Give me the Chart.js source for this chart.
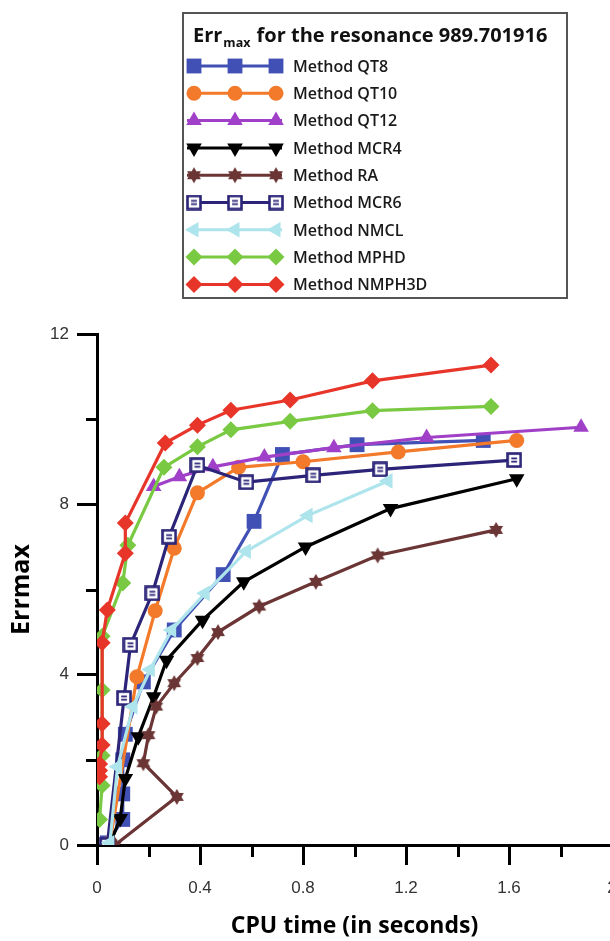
<!DOCTYPE html>
<html>
<head>
<meta charset="UTF-8">
<title>Err max for the resonance 989.701916</title>
<script src="https://cdn.jsdelivr.net/npm/chart.js@4.4.0/dist/chart.umd.min.js"></script>
<style>
    html, body { margin: 0; padding: 0; background: #fff; overflow: hidden; }
    #wrap { width: 610px; height: 941px; overflow: hidden; }
</style>
</head>
<body>
<div id="wrap"><canvas id="errChart" width="640" height="941"></canvas></div>
<script>
    // [cpu time, err max]
    var qt8 = [[0.04, 0.05], [0.1, 0.6], [0.1, 1.2], [0.1, 2.0], [0.11, 2.6], [0.18, 3.83], [0.3, 5.05],
        [0.49, 6.35], [0.61, 7.6], [0.72, 9.17], [1.01, 9.4], [1.5, 9.5]];
    var qt10 = [[0.05, 0.05], [0.155, 3.95], [0.226, 5.5], [0.3, 6.97], [0.39, 8.27], [0.55, 8.87],
        [0.8, 9.0], [1.17, 9.23], [1.63, 9.5]];
    var qt12 = [[0.22, 8.42], [0.32, 8.65], [0.45, 8.88], [0.65, 9.11], [0.92, 9.33], [1.28, 9.57], [1.88, 9.81]];
    var mcr4 = [[0.05, 0.02], [0.09, 0.62], [0.11, 1.56], [0.16, 2.54], [0.22, 3.48], [0.27, 4.34],
        [0.41, 5.28], [0.57, 6.18], [0.81, 7.0], [1.14, 7.9], [1.63, 8.6]];
    var ra = [[0.07, 0.0], [0.31, 1.13], [0.18, 1.92], [0.2, 2.58], [0.23, 3.25], [0.3, 3.8], [0.39, 4.39],
        [0.47, 5.0], [0.63, 5.6], [0.85, 6.18], [1.09, 6.8], [1.55, 7.4]];
    var mcr6 = [[0.04, 0.0], [0.105, 3.45], [0.13, 4.7], [0.215, 5.91], [0.28, 7.24], [0.39, 8.92],
        [0.58, 8.52], [0.84, 8.68], [1.1, 8.82], [1.62, 9.04]];
    var nmcl = [[0.05, 0.05], [0.08, 1.84], [0.14, 3.25], [0.207, 4.12], [0.29, 5.05], [0.42, 5.91],
        [0.58, 6.9], [0.82, 7.74], [1.13, 8.55]];
    var mphd = [[0.01, 0.6], [0.02, 1.4], [0.02, 2.1], [0.02, 3.64], [0.02, 4.9], [0.1, 6.15], [0.12, 7.04],
        [0.26, 8.87], [0.39, 9.35], [0.52, 9.75], [0.75, 9.95], [1.07, 10.2], [1.53, 10.3]];
    var nmph3d = [[0.01, 1.6], [0.01, 1.75], [0.01, 1.9], [0.02, 2.35], [0.02, 2.85], [0.02, 4.75], [0.04, 5.52],
        [0.11, 6.85], [0.11, 7.56], [0.265, 9.44], [0.39, 9.86], [0.52, 10.21], [0.75, 10.45], [1.07, 10.9],
        [1.53, 11.27]];

    var methodNames = ["Method QT8", "Method QT10", "Method QT12", "Method MCR4", "Method RA",
        "Method MCR6", "Method NMCL", "Method MPHD", "Method NMPH3D"];
    var methodData = [qt8, qt10, qt12, mcr4, ra, mcr6, nmcl, mphd, nmph3d];
    var methodColors = ["#4150b4", "#f27a2a", "#a040c8", "#000000", "#6b3535",
        "#2b2478", "#aee4ec", "#7ac943", "#e8352a"];

    var xTicks = {min: 0, max: 2, step: 0.2};
    var yTicks = {min: 0, max: 12, step: 2};

    // six pointed star for RA
    var starImage = function (color, r) {
        var c = document.createElement("canvas");
        var s = Math.ceil(r * 2 + 2);
        c.width = s;
        c.height = s;
        var g = c.getContext("2d");
        g.fillStyle = color;
        g.beginPath();
        for (var i = 0; i < 12; i++) {
            var a = Math.PI / 6 * i - Math.PI / 2;
            var rr = i % 2 === 0 ? r : r * 0.58;
            g.lineTo(s / 2 + rr * Math.cos(a), s / 2 + rr * Math.sin(a));
        }
        g.closePath();
        g.fill();
        return c;
    };

    // hollow square with a little "=" in it, for MCR6
    var boxImage = function (color, s) {
        var c = document.createElement("canvas");
        c.width = s;
        c.height = s;
        var g = c.getContext("2d");
        g.fillStyle = "#fff";
        g.fillRect(1, 1, s - 2, s - 2);
        g.strokeStyle = color;
        g.lineWidth = 2.6;
        g.strokeRect(1.5, 1.5, s - 3, s - 3);
        g.lineWidth = 1.6;
        g.beginPath();
        g.moveTo(s * 0.32, s * 0.4);
        g.lineTo(s * 0.68, s * 0.4);
        g.moveTo(s * 0.32, s * 0.6);
        g.lineTo(s * 0.68, s * 0.6);
        g.stroke();
        return c;
    };

    var markers = [
        {pointStyle: "rect", pointRadius: 10.5, pointRotation: 0},
        {pointStyle: "circle", pointRadius: 7.5, pointRotation: 0},
        {pointStyle: "triangle", pointRadius: 9, pointRotation: 0},
        {pointStyle: "triangle", pointRadius: 9, pointRotation: 180},
        {pointStyle: starImage(methodColors[4], 8), pointRadius: 8, pointRotation: 0},
        {pointStyle: boxImage(methodColors[5], 16), pointRadius: 8, pointRotation: 0},
        {pointStyle: "triangle", pointRadius: 9, pointRotation: 270},
        {pointStyle: "rectRot", pointRadius: 8.5, pointRotation: 0},
        {pointStyle: "rectRot", pointRadius: 8.5, pointRotation: 0}
    ];

    var datasets = methodNames.map(function (name, i) {
        return {
            label: name,
            data: methodData[i].map(function (p) {
                return {x: p[0], y: p[1]};
            }),
            borderColor: methodColors[i],
            backgroundColor: methodColors[i],
            pointBackgroundColor: methodColors[i],
            pointBorderColor: methodColors[i],
            pointBorderWidth: 0,
            borderWidth: 3.2,
            pointStyle: markers[i].pointStyle,
            pointRadius: markers[i].pointRadius,
            pointRotation: markers[i].pointRotation,
            tension: 0,
            fill: false,
            order: methodNames.length - 1 - i
        };
    });

    var isMajorX = function (v) {
        return Math.round(v * 5) % 2 === 0;
    };
    var isMajorY = function (v) {
        return Math.round(v) % 4 === 0;
    };

    // legend box at the top, drawn with the datasets' own styles
    var boxLegend = {
        id: "boxLegend",
        afterDraw: function (chart) {
            var ctx = chart.ctx;
            ctx.save();
            ctx.strokeStyle = "#555";
            ctx.lineWidth = 2;
            ctx.strokeRect(183, 13, 384, 285);

            ctx.fillStyle = "#111";
            ctx.textBaseline = "alphabetic";
            ctx.textAlign = "left";
            ctx.font = "bold 20px 'Open Sans'";
            ctx.fillText("Err", 193, 41.5);
            var w1 = ctx.measureText("Err").width;
            ctx.font = "bold 12.5px 'Open Sans'";
            ctx.fillText("max", 193 + w1 + 1, 47);
            var w2 = ctx.measureText("max").width;
            ctx.font = "bold 20px 'Open Sans'";
            ctx.fillText(" for the resonance 989.701916", 193 + w1 + w2 + 2, 41.5);

            chart.data.datasets.forEach(function (ds, i) {
                var y = 66 + i * 27.3;
                ctx.strokeStyle = ds.borderColor;
                ctx.lineWidth = 3;
                ctx.beginPath();
                ctx.moveTo(187, y);
                ctx.lineTo(282, y);
                ctx.stroke();
                [194, 235, 276].forEach(function (x) {
                    ctx.fillStyle = ds.pointBackgroundColor;
                    ctx.strokeStyle = ds.pointBorderColor;
                    Chart.helpers.drawPoint(ctx, {
                        pointStyle: ds.pointStyle,
                        rotation: ds.pointRotation,
                        radius: ds.pointRadius,
                        borderWidth: 0
                    }, x, y);
                });
                ctx.fillStyle = "#1a1a1a";
                ctx.font = "600 16px 'Open Sans'";
                ctx.fillText(ds.label, 293, y + 5.7);
            });
            ctx.restore();
        }
    };

    // short minor ticks (major ones come from the scales' grid)
    var minorTicks = {
        id: "minorTicks",
        afterDraw: function (chart) {
            var ctx = chart.ctx;
            var xs = chart.scales.x;
            var ys = chart.scales.y;
            ctx.save();
            ctx.strokeStyle = "#000";
            ctx.lineWidth = 3;
            xs.ticks.forEach(function (t) {
                if (!isMajorX(t.value)) {
                    var px = Math.round(xs.getPixelForValue(t.value)) + 0.5;
                    ctx.beginPath();
                    ctx.moveTo(px, xs.top);
                    ctx.lineTo(px, xs.top + 12);
                    ctx.stroke();
                }
            });
            ys.ticks.forEach(function (t) {
                if (!isMajorY(t.value)) {
                    var py = Math.round(ys.getPixelForValue(t.value)) + 0.5;
                    ctx.beginPath();
                    ctx.moveTo(ys.right, py);
                    ctx.lineTo(ys.right - 11, py);
                    ctx.stroke();
                }
            });
            ctx.restore();
        }
    };

    var ctx = document.getElementById("errChart");
    var myChart = new Chart(ctx, {
        type: "line",
        data: {datasets: datasets},
        plugins: [boxLegend, minorTicks],
        options: {
            responsive: false,
            animation: false,
            layout: {padding: {top: 334, right: 28, left: 0, bottom: 0}},
            plugins: {
                legend: {display: false},
                tooltip: {enabled: false}
            },
            scales: {
                x: {
                    type: "linear",
                    min: xTicks.min,
                    max: xTicks.max,
                    border: {display: true, color: "#000", width: 3},
                    grid: {
                        drawOnChartArea: false,
                        drawTicks: true,
                        tickLength: 20,
                        lineWidth: 3,
                        tickWidth: 3,
                        tickColor: function (c) {
                            return c.tick && isMajorX(c.tick.value) ? "#000" : "rgba(0,0,0,0)";
                        }
                    },
                    ticks: {
                        stepSize: xTicks.step,
                        autoSkip: false,
                        maxRotation: 0,
                        padding: 13,
                        color: "#333",
                        font: {family: "'Liberation Sans'", size: 17},
                        callback: function (v) {
                            return isMajorX(v) ? String(+v.toFixed(1)) : "";
                        }
                    },
                    title: {
                        display: true,
                        text: "CPU time (in seconds)",
                        color: "#000",
                        font: {family: "'Open Sans'", size: 23, weight: "bold"},
                        padding: {top: 0, bottom: 1}
                    },
                    afterFit: function (s) {
                        s.height = 96;
                    }
                },
                y: {
                    min: yTicks.min,
                    max: yTicks.max,
                    border: {display: true, color: "#000", width: 3},
                    grid: {
                        drawOnChartArea: false,
                        drawTicks: true,
                        tickLength: 20,
                        lineWidth: 3,
                        tickWidth: 3,
                        tickColor: function (c) {
                            return c.tick && isMajorY(c.tick.value) ? "#000" : "rgba(0,0,0,0)";
                        }
                    },
                    ticks: {
                        stepSize: yTicks.step,
                        autoSkip: false,
                        padding: 8,
                        color: "#333",
                        font: {family: "'Liberation Sans'", size: 17},
                        callback: function (v) {
                            return isMajorY(v) ? String(v) : "";
                        }
                    },
                    title: {
                        display: true,
                        text: "Errmax",
                        color: "#000",
                        font: {family: "'Open Sans'", size: 25, weight: "bold"},
                        padding: {top: 7, bottom: 0}
                    },
                    afterFit: function (s) {
                        s.width = 97;
                    }
                }
            }
        }
    });
</script>
</body>
</html>
